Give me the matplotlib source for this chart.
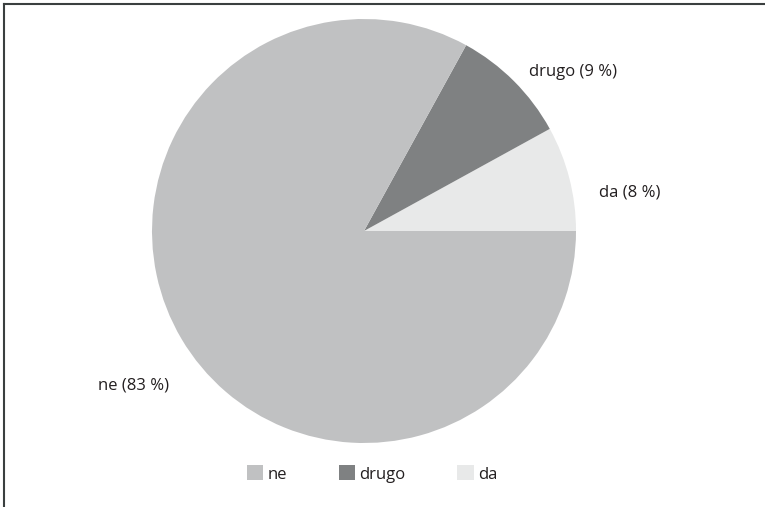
import matplotlib.pyplot as plt
from matplotlib.lines import Line2D

plt.rcParams['font.family'] = ['Open Sans', 'DejaVu Sans']

# data (counter-clockwise from 3 o'clock)
labels = ['da', 'drugo', 'ne']
shares = [8, 9, 83]
colors = ['#e8e9e9', '#7f8182', '#c0c1c2']
legend_order = ['ne', 'drugo', 'da']
# label anchor positions in pie radius units
label_xy = [(1.11, 0.18), (0.78, 0.75), (-0.92, -0.73)]

W, H = 765, 507
fig = plt.figure(figsize=(W / 100, H / 100), dpi=100)

cx, cy, r = 364, 231, 212
ax = fig.add_axes([(cx - r) / W, (H - cy - r) / H, 2 * r / W, 2 * r / H])

texts = [f'{l} ({v} %)' for l, v in zip(labels, shares)]
wedges, txts = ax.pie(shares, labels=texts, colors=colors, startangle=0,
                      counterclock=True, labeldistance=1.1,
                      textprops={'fontsize': 12, 'color': '#231f20'},
                      wedgeprops={'linewidth': 0})
for t, xy in zip(txts, label_xy):
    t.set_position(xy)
    t.set_va('center')
ax.set_xlim(-1, 1)
ax.set_ylim(-1, 1)
ax.set_aspect('equal')

# legend in the requested order
handles = [wedges[labels.index(l)] for l in legend_order]
fig.legend(handles, legend_order, loc='center', bbox_to_anchor=(372 / W, 1 - 474 / H),
           ncol=3, frameon=False, fontsize=12, handlelength=1.0, handleheight=1.0,
           handletextpad=0.25, columnspacing=3.1, labelcolor='#231f20')

# frame lines on top and left only
fig.add_artist(Line2D([4 / W, 1], [1 - 4 / H, 1 - 4 / H], color='#3a3f3f', lw=1.5))
fig.add_artist(Line2D([4 / W, 4 / W], [0, 1 - 4 / H], color='#3a3f3f', lw=1.5))

fig.savefig('out.png', dpi=100)
